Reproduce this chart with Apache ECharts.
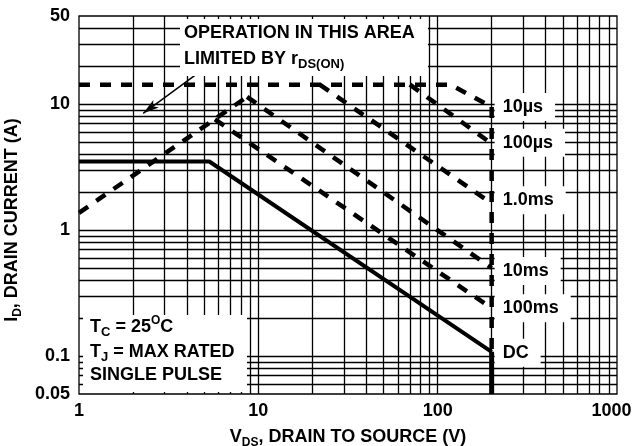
<!DOCTYPE html>
<html>
<head>
<meta charset="utf-8">
<script src="https://cdn.jsdelivr.net/npm/echarts@6/dist/echarts.min.js"></script>
<style>
html,body{margin:0;padding:0;background:#fff;}
#chart{width:636px;height:446px;}
</style>
</head>
<body>
<div id="chart"></div>
<script>
// ---- Data ----
const xTickLabels = [1, 10, 100, 1000];
const yTickLabels = [0.05, 0.1, 1, 10, 50];
const xGridValues = [2,3,4,5,6,7,8,9,10,20,30,40,50,60,70,80,90,100,200,300,400,500,600,700,800,900];
const yGridValues = [0.06,0.07,0.08,0.09,0.1,0.2,0.3,0.4,0.5,0.6,0.7,0.8,0.9,1,2,3,4,5,6,7,8,9,10,20,30,40];

const rdsLimit   = [[1, 1.37], [8.65, 11.4]];
const pulse10us  = [[1, 14.25], [118, 14.25], [200, 9.5]];
const pulse100us = [[70, 14.25], [200, 4.85]];
const pulse1ms   = [[22, 14.25], [200, 1.63]];
const pulse10ms  = [[8.65, 11.4], [200, 0.5]];
const pulse100ms = [[5.73, 7.55], [200, 0.24]];
const dcLimit    = [[1, 3.5], [5.33, 3.5], [200, 0.108]];
const vdssDashed = [[200, 9.5], [200, 0.108]];
const vdssSolid  = [[200, 0.108], [200, 0.05]];
const arrowFrom  = [4.73, 18.07];
const arrowTo    = [2.28, 8.45];

// ---- Styles ----
const FONT = "'Liberation Sans', Arial, Helvetica, sans-serif";
const FS = 18;
const dashStyle = {color: '#000', width: 4.5, type: [11, 10], cap: 'butt'};
const solidStyle = {color: '#000', width: 4, type: 'solid', cap: 'butt'};
const labelBase = {fontFamily: FONT, fontWeight: 'bold', fontSize: FS, color: '#000'};

function endLabel(offsetY) {
  return {
    show: true,
    formatter: '{a}',
    fontFamily: FONT, fontWeight: 'bold', fontSize: FS, color: '#000',
    backgroundColor: '#fff',
    padding: [5, 12, 5, 8],
    distance: 3,
    offset: [0, offsetY || 0]
  };
}

function curve(name, data, style, label) {
  return {
    name: name, type: 'line', data: data, z: 4,
    showSymbol: false, symbol: 'none', silent: true,
    lineStyle: style,
    endLabel: label ? endLabel(label.dy) : {show: false}
  };
}

const subRich = {
  s: {fontFamily: FONT, fontWeight: 'bold', fontSize: 12, color: '#000', lineHeight: 12, verticalAlign: 'bottom'},
  p: {fontFamily: FONT, fontWeight: 'bold', fontSize: 12, color: '#000', lineHeight: 12, verticalAlign: 'top'},
  n: {fontFamily: FONT, fontWeight: 'bold', fontSize: FS, color: '#000', lineHeight: 24}
};

const chart = echarts.init(document.getElementById('chart'), null, {renderer: 'canvas'});

const option = {
  animation: false,
  backgroundColor: '#fff',
  grid: {left: 79, right: 19, top: 16, bottom: 52, containLabel: false, outerBoundsMode: 'none',
         show: true, borderColor: '#000', borderWidth: 1.3, backgroundColor: 'transparent'},
  xAxis: {
    type: 'log', logBase: 10, min: 1, max: 1000,
    axisLine: {show: false}, axisTick: {show: false}, splitLine: {show: false},
    axisLabel: Object.assign({}, labelBase, {
      margin: 8,
      formatter: function (v) {
        const r = +Number(v).toPrecision(3);
        if (xTickLabels.indexOf(r) < 0) return '';
        return r === 1000 ? '{r|1000}' : '{n|' + r + '}';
      },
      rich: {
        r: {fontFamily: FONT, fontWeight: 'bold', fontSize: FS, color: '#000', padding: [0, 11, 0, 0]},
        n: {fontFamily: FONT, fontWeight: 'bold', fontSize: FS, color: '#000'}
      }
    }),
    name: '{n|V}{s|DS}{n|, DRAIN TO SOURCE (V)}',
    nameLocation: 'middle', nameGap: 28,
    nameTextStyle: {fontFamily: FONT, fontWeight: 'bold', fontSize: FS, color: '#000', lineHeight: 24, rich: subRich}
  },
  yAxis: {
    type: 'log', logBase: 10, min: 0.05, max: 50,
    axisLine: {show: false}, axisTick: {show: false}, splitLine: {show: false},
    axisLabel: Object.assign({}, labelBase, {
      margin: 9,
      formatter: function (v) {
        const r = +Number(v).toPrecision(3);
        return yTickLabels.indexOf(r) < 0 ? '' : String(r);
      }
    }),
    name: '{n|I}{s|D}{n|, DRAIN CURRENT (A)}',
    nameLocation: 'middle', nameGap: 50,
    nameTextStyle: {fontFamily: FONT, fontWeight: 'bold', fontSize: FS, color: '#000', lineHeight: 24, rich: subRich, padding: [0, 30, 0, 0]}
  },
  series: [
    {
      name: 'grid', type: 'line', data: [[1, 1]], showSymbol: false, symbol: 'none', silent: true, z: 1,
      lineStyle: {width: 0},
      markLine: {
        silent: true, symbol: 'none', animation: false, z: 1,
        label: {show: false},
        lineStyle: {color: '#000', width: 1.3, type: 'solid'},
        emphasis: {disabled: true},
        data: xGridValues.map(v => ({xAxis: v})).concat(yGridValues.map(v => ({yAxis: v})))
      }
    },
    curve('rDS', rdsLimit, dashStyle, null),
    curve('10µs', pulse10us, dashStyle, {dy: 0}),
    curve('100µs', pulse100us, dashStyle, {dy: -1}),
    curve('1.0ms', pulse1ms, dashStyle, {dy: -3}),
    curve('10ms', pulse10ms, dashStyle, {dy: 3}),
    curve('100ms', pulse100ms, dashStyle, {dy: 0}),
    curve('DC', dcLimit, solidStyle, {dy: 1}),
    curve('vdss', vdssDashed, dashStyle, null),
    curve('vdss2', vdssSolid, {color: '#000', width: 5, type: 'solid', cap: 'butt'}, null),
    {
      name: 'arrow', type: 'line', data: [], silent: true, z: 6,
      markLine: {
        silent: true, animation: false, z: 6,
        symbol: ['none', 'arrow'], symbolSize: [7, 16],
        label: {show: false},
        lineStyle: {color: '#000', width: 1.5, type: 'solid'},
        emphasis: {disabled: true},
        data: [[{coord: arrowFrom}, {coord: arrowTo}]]
      }
    }
  ],
  graphic: [
    {type: 'rect', z: 50, silent: true, shape: {x: 180, y: 19, width: 248, height: 57}, style: {fill: '#fff'}},
    {type: 'text', z: 51, silent: true, x: 184, y: 33,
      style: {text: 'OPERATION IN THIS AREA', fontFamily: FONT, fontWeight: 'bold', fontSize: FS, fill: '#000', verticalAlign: 'middle', align: 'left'}},
    {type: 'text', z: 51, silent: true, x: 184, y: 59,
      style: {text: '{n|LIMITED BY r}{s|DS(ON)}', fontFamily: FONT, fontWeight: 'bold', fontSize: FS, fill: '#000', lineHeight: 24, verticalAlign: 'middle', align: 'left',
        rich: {n: {fontFamily: FONT, fontWeight: 'bold', fontSize: FS, fill: '#000', lineHeight: 24},
               s: {fontFamily: FONT, fontWeight: 'bold', fontSize: 13, fill: '#000', lineHeight: 12, verticalAlign: 'bottom'}}}},
    {type: 'rect', z: 50, silent: true, shape: {x: 83, y: 315, width: 164, height: 77}, style: {fill: '#fff'}},
    {type: 'text', z: 51, silent: true, x: 90, y: 327,
      style: {text: '{n|T}{s|C}{n| = 25}{p|O}{n|C}', fontFamily: FONT, fontWeight: 'bold', fontSize: FS, fill: '#000', lineHeight: 24, verticalAlign: 'middle', align: 'left',
        rich: {n: {fontFamily: FONT, fontWeight: 'bold', fontSize: FS, fill: '#000', lineHeight: 24},
               s: {fontFamily: FONT, fontWeight: 'bold', fontSize: 13, fill: '#000', lineHeight: 12, verticalAlign: 'bottom'},
               p: {fontFamily: FONT, fontWeight: 'bold', fontSize: 12, fill: '#000', lineHeight: 12, verticalAlign: 'top'}}}},
    {type: 'text', z: 51, silent: true, x: 90, y: 352,
      style: {text: '{n|T}{s|J}{n| = MAX RATED}', fontFamily: FONT, fontWeight: 'bold', fontSize: FS, fill: '#000', lineHeight: 24, verticalAlign: 'middle', align: 'left',
        rich: {n: {fontFamily: FONT, fontWeight: 'bold', fontSize: FS, fill: '#000', lineHeight: 24},
               s: {fontFamily: FONT, fontWeight: 'bold', fontSize: 13, fill: '#000', lineHeight: 12, verticalAlign: 'bottom'}}}},
    {type: 'text', z: 51, silent: true, x: 90, y: 375,
      style: {text: 'SINGLE PULSE', fontFamily: FONT, fontWeight: 'bold', fontSize: FS, fill: '#000', verticalAlign: 'middle', align: 'left'}}
  ]
};
chart.setOption(option);
</script>
</body>
</html>
